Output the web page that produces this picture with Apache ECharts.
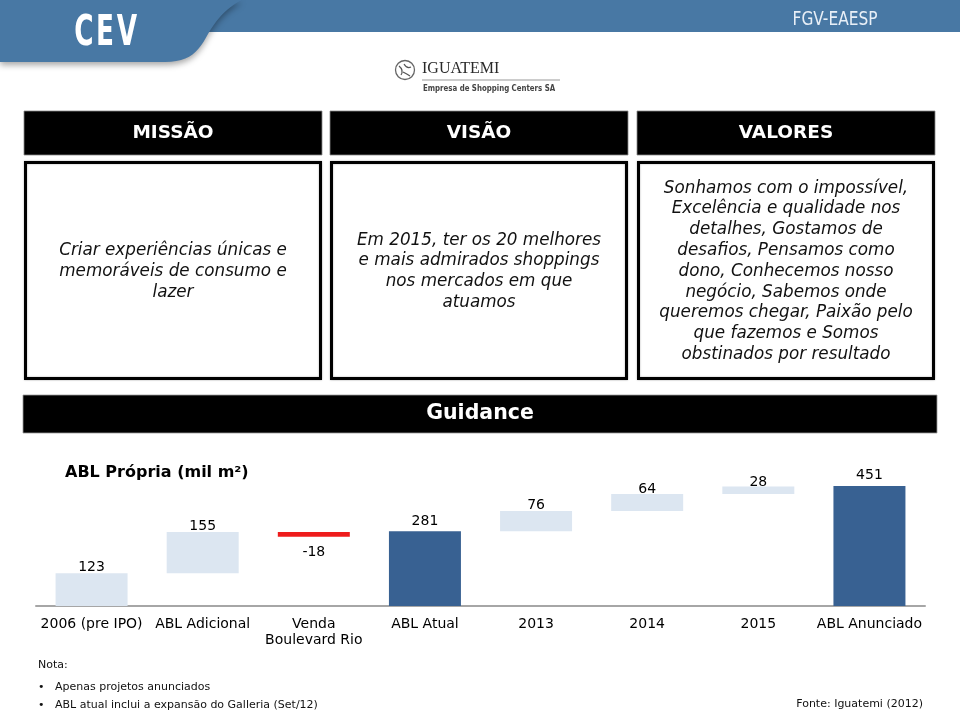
<!DOCTYPE html>
<html>
<head>
<meta charset="utf-8">
<script src="https://cdn.jsdelivr.net/npm/echarts@6/dist/echarts.min.js"></script>
<style>
html,body{margin:0;padding:0;background:#fff;}
#chart{width:960px;height:714px;}
</style>
</head>
<body>
<div id="chart"></div>
<script>
// ---- data ----
const categories = ['2006 (pre IPO)', 'ABL Adicional', 'Venda\nBoulevard Rio', 'ABL Atual', '2013', '2014', '2015', 'ABL Anunciado'];
const values = [123, 155, -18, 281, 76, 64, 28, 451];
const kinds = ['start', 'delta', 'delta', 'total', 'delta', 'delta', 'delta', 'total'];
const chartTitle = 'ABL Própria (mil m²)';
const headers = ['MISSÃO', 'VISÃO', 'VALORES'];
const boxTexts = [
  'Criar experiências únicas e\nmemoráveis de consumo e\nlazer',
  'Em 2015, ter os 20 melhores\ne mais admirados shoppings\nnos mercados em que\natuamos',
  'Sonhamos com o impossível,\nExcelência e qualidade nos\ndetalhes, Gostamos de\ndesafios, Pensamos como\ndono, Conhecemos nosso\nnegócio, Sabemos onde\nqueremos chegar, Paixão pelo\nque fazemos e Somos\nobstinados por resultado'
];
const notes = ['Apenas projetos anunciados', 'ABL atual inclui a expansão do Galleria (Set/12)'];
const sourceText = 'Fonte: Iguatemi (2012)';

// label gaps (style only)
const labelGap = [-1, -1, 9, 3, -1, -2, -3, 4];

// ---- waterfall build ----
const baseData = [];
const barData = [];
let running = 0;
values.forEach((v, i) => {
  let base, h;
  if (kinds[i] === 'total' || kinds[i] === 'start') { base = 0; h = v; running = v; }
  else if (v >= 0) { base = running; h = v; running += v; }
  else { running += v; base = running; h = -v; }
  baseData.push(base);
  const neg = v < 0;
  const total = kinds[i] === 'total';
  barData.push({
    value: h,
    itemStyle: { color: neg ? '#ee1c1c' : (total ? '#386192' : '#dce6f1') },
    label: {
      show: true,
      position: neg ? 'bottom' : 'top',
      distance: labelGap[i],
      formatter: String(v)
    }
  });
});

// bezier sampler for the decorative header tab
function bez(p0, p1, p2, p3, n) {
  const pts = [];
  for (let k = 1; k <= n; k++) {
    const t = k / n, u = 1 - t;
    pts.push([
      u*u*u*p0[0] + 3*u*u*t*p1[0] + 3*u*t*t*p2[0] + t*t*t*p3[0],
      u*u*u*p0[1] + 3*u*u*t*p1[1] + 3*u*t*t*p2[1] + t*t*t*p3[1]
    ]);
  }
  return pts;
}
const tabPts = [[0, 0], [242, 0]]
  .concat(bez([242, 0], [226, 8], [216, 20], [208, 34], 12))
  .concat(bez([208, 34], [199, 51], [190, 62], [165, 62], 12))
  .concat([[0, 62]]);

const chart = echarts.init(document.getElementById('chart'), null, {renderer: 'canvas'});

const g = [];
// header band
g.push({type: 'rect', shape: {x: 0, y: 0, width: 960, height: 32}, style: {fill: '#4878a4'}, z: 1});
g.push({type: 'polygon', shape: {points: tabPts},
  style: {fill: '#4878a4', shadowBlur: 6, shadowColor: 'rgba(0,0,0,0.35)', shadowOffsetY: 3}, z: 2});
['C', 'E', 'V'].forEach((ch, k) => {
  g.push({type: 'text', x: [84, 105, 127][k], y: 34, scaleX: 0.68, z: 3,
    style: {text: ch, fill: '#ffffff', align: 'center', verticalAlign: 'middle',
      font: 'bold 43px "DejaVu Sans Condensed", "DejaVu Sans", sans-serif'}});
});
g.push({type: 'text', x: 835, y: 20, z: 3, scaleX: 0.9, style: {text: 'FGV-EAESP', fill: '#e8eff7', align: 'center', verticalAlign: 'middle',
  font: '19px "DejaVu Sans Condensed", "Liberation Sans", sans-serif'}});
// logo
g.push({type: 'circle', shape: {cx: 405, cy: 70, r: 9.5}, style: {fill: '#fff', stroke: '#666', lineWidth: 1.3}});
g.push({type: 'bezierCurve', shape: {x1: 399, y1: 66, cpx1: 404, cpy1: 70, x2: 401, y2: 75}, style: {fill: 'none', stroke: '#555', lineWidth: 1.2}});
g.push({type: 'bezierCurve', shape: {x1: 404, y1: 64, cpx1: 407, cpy1: 69, x2: 411, y2: 67}, style: {fill: 'none', stroke: '#555', lineWidth: 1.2}});
g.push({type: 'bezierCurve', shape: {x1: 403, y1: 72, cpx1: 407, cpy1: 74, x2: 410, y2: 76}, style: {fill: 'none', stroke: '#555', lineWidth: 1.2}});
g.push({type: 'text', x: 422, y: 69, style: {text: 'IGUATEMI', fill: '#2a2a2a', align: 'left', verticalAlign: 'middle',
  font: '16px "Liberation Serif", serif'}});
g.push({type: 'line', shape: {x1: 422, y1: 80, x2: 560, y2: 80}, style: {stroke: '#999', lineWidth: 1}});
g.push({type: 'text', x: 423, y: 89, scaleX: 0.82, style: {text: 'Empresa de Shopping Centers SA', fill: '#444', align: 'left', verticalAlign: 'middle',
  font: 'bold 9.5px "DejaVu Sans Condensed", sans-serif'}});

// mission / vision / values boxes
const boxX = [24, 330, 637];
const boxW = 298;
headers.forEach((h, i) => {
  g.push({type: 'rect', shape: {x: boxX[i], y: 111, width: boxW, height: 44}, style: {fill: '#000', stroke: '#888', lineWidth: 0.8}});
  g.push({type: 'text', x: boxX[i] + boxW / 2, y: 133, style: {text: h, fill: '#fff', align: 'center', verticalAlign: 'middle',
    font: 'bold 18.5px "DejaVu Sans", Verdana, sans-serif'}});
  g.push({type: 'rect', shape: {x: boxX[i] + 1.5, y: 162.5, width: boxW - 3, height: 216},
    style: {fill: '#fff', stroke: '#000', lineWidth: 3, shadowBlur: 2, shadowColor: 'rgba(0,0,0,0.35)'}});
  g.push({type: 'text', x: boxX[i] + boxW / 2, y: 271.5, style: {text: boxTexts[i], fill: '#111', align: 'center', verticalAlign: 'middle',
    font: 'italic 16.8px "DejaVu Sans", Verdana, sans-serif', lineHeight: 20.8}});
});

// guidance bar
g.push({type: 'rect', shape: {x: 23, y: 395, width: 914, height: 38}, style: {fill: '#000', stroke: '#999', lineWidth: 0.8}});
g.push({type: 'text', x: 480, y: 414, style: {text: 'Guidance', fill: '#fff', align: 'center', verticalAlign: 'middle',
  font: 'bold 20.5px "DejaVu Sans", Verdana, sans-serif'}});
// chart title
g.push({type: 'text', x: 65, y: 473, style: {text: chartTitle, fill: '#000', align: 'left', verticalAlign: 'middle',
  font: 'bold 16px "DejaVu Sans", Verdana, sans-serif'}});

// notes
g.push({type: 'text', x: 38, y: 665, style: {text: 'Nota:', fill: '#111', align: 'left', verticalAlign: 'middle', font: '11px "DejaVu Sans", Verdana, sans-serif'}});
notes.forEach((n, i) => {
  const y = 687 + i * 18;
  g.push({type: 'text', x: 38, y: y, style: {text: '•', fill: '#111', align: 'left', verticalAlign: 'middle', font: '11px "DejaVu Sans", sans-serif'}});
  g.push({type: 'text', x: 55, y: y, style: {text: n, fill: '#111', align: 'left', verticalAlign: 'middle', font: '11px "DejaVu Sans", Verdana, sans-serif'}});
});
g.push({type: 'text', x: 923, y: 704, style: {text: sourceText, fill: '#111', align: 'right', verticalAlign: 'middle', font: '11px "DejaVu Sans", Verdana, sans-serif'}});

chart.setOption({
  animation: false,
  backgroundColor: '#ffffff',
  grid: {left: 36, right: 35, top: 473, bottom: 108, containLabel: false},
  xAxis: {
    type: 'category',
    data: categories,
    axisLine: {show: true, lineStyle: {color: '#a6a6a6', width: 2}},
    axisTick: {show: false},
    axisLabel: {interval: 0, margin: 10, color: '#000', fontSize: 14, lineHeight: 16,
      fontFamily: '"DejaVu Sans", Verdana, sans-serif'}
  },
  yAxis: {type: 'value', min: 0, max: 500, show: false, splitLine: {show: false}},
  series: [
    {type: 'bar', stack: 'w', barWidth: 72, data: baseData, itemStyle: {color: 'rgba(0,0,0,0)'}, silent: true},
    {type: 'bar', stack: 'w', barWidth: 72, data: barData,
      label: {color: '#000', fontSize: 14, fontFamily: '"DejaVu Sans", Verdana, sans-serif'}}
  ],
  graphic: g
});
</script>
</body>
</html>
